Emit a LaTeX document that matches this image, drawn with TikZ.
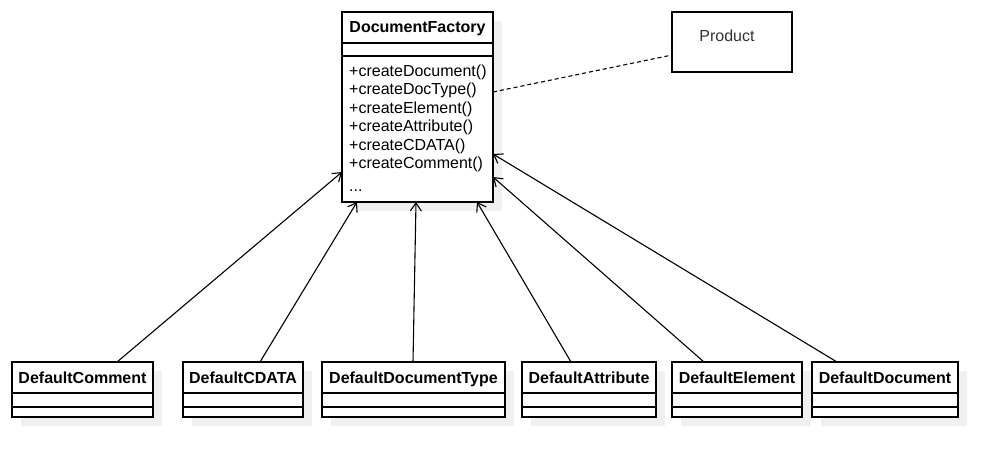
\documentclass[tikz,border=0pt]{standalone}
\usepackage{fontspec}
\setmainfont{Liberation Sans}
\usetikzlibrary{arrows.meta,calc}
\definecolor{shadowgray}{HTML}{F0F0F0}
\definecolor{prodtext}{HTML}{333333}
\tikzset{
  box/.style={draw, line width=1.3pt, fill=white, inner sep=0pt, outer sep=0pt, anchor=north west},
  cname/.style={font=\bfseries\fontsize{16}{19}\selectfont, anchor=base, inner sep=0pt},
  meth/.style={font=\fontsize{16}{19}\selectfont, anchor=base west, inner sep=0pt},
  inh/.style={line width=1.1pt, -{Straight Barb[length=8pt,width=11pt,line width=1.1pt]}},
  sep/.style={line width=1.3pt},
}
\begin{document}
\begin{tikzpicture}[x=1pt,y=-1pt]
\fill[white] (0,0) rectangle (1007,467);
\useasboundingbox (0,0) rectangle (1007,467);

% DocumentFactory
\fill[shadowgray] (351,21) rectangle (502,211);
\node[box, minimum width=151pt, minimum height=190pt] (df) at (342,12) {};
\draw[sep] ($(df.north west)+(0,31)$) -- ($(df.north east)+(0,31)$);
\draw[sep] ($(df.north west)+(0,44)$) -- ($(df.north east)+(0,44)$);
\node[cname] (dft) at (417.5,32.5) {DocumentFactory};
\node[meth] (m1) at (349,76) {+createDocument()};
\node[meth] (m2) at (349,94.5) {+createDocType()};
\node[meth] (m3) at (349,113) {+createElement()};
\node[meth] (m4) at (349,131.5) {+createAttribute()};
\node[meth] (m5) at (349,150) {+createCDATA()};
\node[meth] (m6) at (349,168.5) {+createComment()};
\node[meth] (m7) at (349,191) {...};

% Product
\node[draw, line width=1.3pt, inner sep=0pt, outer sep=0pt, minimum width=120pt, minimum height=60pt, anchor=north west] (pr) at (672,12) {};
\node[font=\fontsize{16}{19}\selectfont, text=prodtext, anchor=base, inner sep=0pt] (prt) at (727,41) {Product};
\draw[line width=1.1pt, dash pattern=on 4pt off 3pt] ($(df.north east)+(0,80)$) -- ($(pr.south west)+(0,-17)$);

% subclasses
\foreach \i/\xa/\xb/\nm in {1/12/153/DefaultComment, 2/183/303/DefaultCDATA, 3/322/505/DefaultDocumentType, 4/522/656/DefaultAttribute, 5/672/802/DefaultElement, 6/812/958/DefaultDocument}{
  \fill[shadowgray] (\xa+9,371) rectangle (\xb+9,426);
  \node[box, minimum width={(\xb-\xa)*1pt}, minimum height=55pt] (b\i) at (\xa,362) {};
  \draw[sep] ($(b\i.north west)+(0,31)$) -- ($(b\i.north east)+(0,31)$);
  \draw[sep] ($(b\i.north west)+(0,45)$) -- ($(b\i.north east)+(0,45)$);
  \node[cname] (t\i) at ({(\xa+\xb)/2},383) {\nm};
}

% inheritance connectors
\draw[inh] ($(b1.north west)+(105,0)$) -- ($(df.north west)+(0,160)$);
\draw[inh] ($(b2.north west)+(77,0)$) -- ($(df.south west)+(15,0)$);
\draw[inh] ($(b3.north west)+(91,0)$) -- ($(df.south west)+(74,0)$);
\draw[inh] ($(b4.north west)+(49,0)$) -- ($(df.south west)+(135,0)$);
\draw[inh] ($(b5.north west)+(32,0)$) -- ($(df.north east)+(0,165)$);
\draw[inh] ($(b6.north west)+(25,0)$) -- ($(df.north east)+(0,142)$);
\end{tikzpicture}
\end{document}
